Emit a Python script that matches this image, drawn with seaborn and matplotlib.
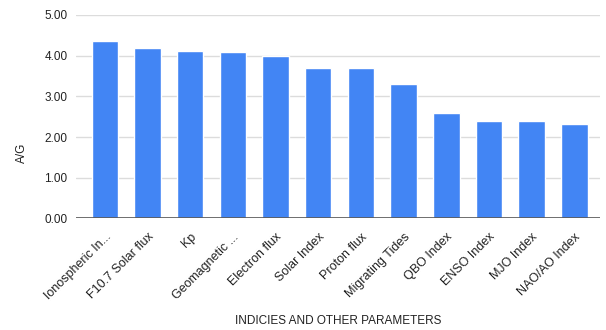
import pandas as pd
import matplotlib
matplotlib.use("Agg")
import matplotlib.pyplot as plt
import seaborn as sns

# values
parameters = [
    "Ionospheric In...", "F10.7 Solar flux", "Kp", "Geomagnetic ...",
    "Electron flux", "Solar Index", "Proton flux", "Migrating Tides",
    "QBO Index", "ENSO Index", "MJO Index", "NAO/AO Index",
]
avg_values = [4.37, 4.19, 4.11, 4.08, 4.00, 3.70, 3.70, 3.31, 2.60, 2.39, 2.39, 2.31]
y_ticks = [0, 1, 2, 3, 4, 5]

df = pd.DataFrame({"parameter": parameters, "avg": avg_values})

sns.set_style("white")
plt.rcParams["font.family"] = ["Liberation Sans", "DejaVu Sans"]

fig = plt.figure(figsize=(6.06, 3.30), dpi=100)
ax = fig.add_axes([0.125, 0.338, 0.865, 0.617])

ax.set_axisbelow(True)
for t in y_ticks[1:]:
    ax.axhline(t, color="#dcdcdc", lw=1, zorder=0)

sns.barplot(data=df, x="parameter", y="avg", color="#4285F4",
            saturation=1, width=0.62, ax=ax, zorder=2)

ax.axhline(0, color="#555555", lw=1.2, zorder=3)
ax.set_ylim(0, 5)
ax.set_xlim(-0.68, 11.6)
ax.set_yticks(y_ticks)
ax.set_yticklabels([f"{t:.2f}" for t in y_ticks], fontsize=8.5, color="#222222")
ax.set_xticks(range(len(parameters)))
ax.set_xticklabels(parameters, rotation=45, ha="right", rotation_mode="anchor",
                   fontsize=9, color="#222222")
ax.tick_params(axis="y", length=0, pad=6)
ax.tick_params(axis="x", length=0, pad=9)

for s in ax.spines.values():
    s.set_visible(False)

ax.set_ylabel("A/G", fontsize=8.5, color="#222222")
ax.yaxis.set_label_coords(-0.092, 0.32)
ax.set_xlabel("INDICIES AND OTHER PARAMETERS", fontsize=8.5, color="#222222")
ax.xaxis.set_label_coords(0.5, -0.475)

fig.savefig("out.png", dpi=100)
